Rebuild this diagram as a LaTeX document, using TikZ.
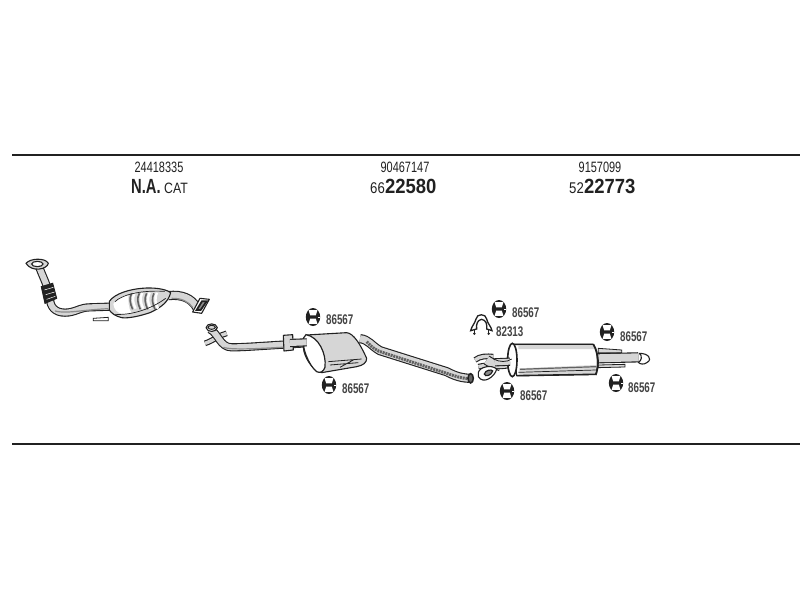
\documentclass[tikz,border=0pt]{standalone}
\usepackage{fontspec}
\setmainfont{Liberation Sans}
\definecolor{ink}{gray}{0.13}
\definecolor{shade}{gray}{0.55}
\definecolor{pale}{gray}{0.84}
\tikzset{
  rule/.style={draw=ink,line width=1.9pt},
  pipeA/.style={draw=ink,line width=1.1pt,double=pale,double distance=#1,line join=round},
  pipeA/.default=4.5pt,
  body/.style={draw=ink,line width=1.1pt,fill=pale,line join=round},
  thin/.style={draw=ink,line width=.8pt},
  hatch/.style={draw=shade,line width=1.2pt},
  partno/.style={inner sep=0pt,font=\fontsize{15}{15}\selectfont,xscale=.73,anchor=base,text=ink},
  bigno/.style={inner sep=0pt,font=\fontsize{20.5}{20}\selectfont\bfseries,xscale=.9,anchor=base west,text=ink},
  smallno/.style={inner sep=0pt,font=\fontsize{15.5}{15}\selectfont,xscale=.85,anchor=base east,text=ink},
  hangerno/.style={inner sep=0pt,font=\fontsize{14}{14}\selectfont\bfseries,xscale=.7,anchor=base west,text=ink!85},
  pics/hanger/.style={code={
    \fill[ink] (0,0) ellipse (7.2pt and 9pt);
    \fill[white] (-4.4,-6.8) -- (4.4,-6.8) -- (2.8,-1.6) -- (-2.8,-1.6) -- cycle;
    \fill[white] (-4.4,6.8) -- (4.4,6.8) -- (2.8,1.6) -- (-2.8,1.6) -- cycle;
    \fill[white] (5.4,-.5) rectangle (7.4,.5);
  }}
}
\begin{document}
\begin{tikzpicture}[x=1pt,y=-1pt]
\useasboundingbox (0,0) rectangle (800,600);
\fill[white] (0,0) rectangle (800,600);
\draw[rule] (12,155) -- (800,155);
\draw[rule] (12,444) -- (800,444);

% headings
\node[partno] (p1) at (159,172) {24418335};
\node[partno] (p2) at (405,172) {90467147};
\node[partno] (p3) at (600,172) {9157099};
\node[bigno,xscale=.8] (n1) at (131,193) {N.A.};
\node[inner sep=0pt,font=\fontsize{15}{15}\selectfont,xscale=.82,anchor=base west,text=ink] (n1b) at (164,193) {CAT};
\node[bigno] (n2) at (385,193) {22580};
\node[smallno] (n2b) at (385,193) {66};
\node[bigno] (n3) at (584,193) {22773};
\node[smallno] (n3b) at (584,193) {52};

% catalytic section (zoom 1 coordinates)
\begin{scope}[shift={(0,230)},x=.3333pt,y=-.3333pt]
  \draw[pipeA=6pt] (118,112) .. controls (128,140) and (145,170) .. (150,205) .. controls (150,230) and (165,248) .. (195,248) .. controls (225,248) and (240,232) .. (270,232) -- (330,230);
  \draw[hatch] (165,243) .. controls (200,252) and (240,240) .. (325,236);
  \draw[body] (78,100) .. controls (90,85) and (135,82) .. (145,100) .. controls (142,118) and (95,128) .. (78,100) -- cycle;
  \draw[ink,line width=1.1pt,fill=white] (112,102) ellipse (17 and 8);
  \draw[ink,line width=1pt,fill=ink] (124,170) -- (158,160) -- (170,205) -- (135,220) -- cycle;
  \draw[white,line width=.5pt] (133,180) -- (160,172) (137,194) -- (164,186) (140,208) -- (166,199);
  \draw[pipeA=7pt] (505,197) .. controls (545,192) and (575,205) .. (590,232);
  \draw[hatch] (515,205) .. controls (545,204) and (565,215) .. (578,232);
  \draw[body,fill=white] (600,205) -- (628,208) -- (605,250) -- (578,246) -- cycle;
  \draw[ink,line width=1.8pt,fill=shade] (606,214) -- (620,214) -- (602,240) -- (590,240) -- cycle;
  \draw[body] (328,214) .. controls (345,190) and (390,178) .. (425,175) .. controls (455,172) and (495,175) .. (512,188) .. controls (505,215) and (485,232) .. (450,248) .. controls (420,258) and (385,266) .. (365,263) .. controls (345,258) and (335,250) .. (328,240) -- cycle;
  \fill[white] (340,222) .. controls (355,200) and (375,195) .. (385,195) .. controls (385,215) and (385,235) .. (395,250) .. controls (375,255) and (345,255) .. (340,222) -- cycle;
  \foreach \x in {395,418,440,462}{
    \draw[white,line width=2.4pt] (\x+9,188) .. controls (\x+1,205) and (\x+4,220) .. (\x+12,236);
    \draw[shade!70!black,line width=1.6pt] (\x,190) .. controls (\x-8,205) and (\x-5,220) .. (\x+3,238);}
  \draw[ink,line width=.7pt] (345,215) .. controls (365,195) and (420,180) .. (495,184);
  \draw[ink,line width=.7pt] (345,253) .. controls (390,256) and (450,240) .. (497,205);
  \draw[thin,fill=white] (280,265) -- (325,262) -- (325,272) -- (280,272) -- cycle;
\end{scope}

% centre section (zoom 2 coordinates)
\begin{scope}[shift={(190,290)},x=.3333pt,y=-.3333pt]
  \draw[pipeA=3.5pt] (45,160) .. controls (70,152) and (88,135) .. (110,130);
  \draw[pipeA=6pt] (60,118) .. controls (85,130) and (90,172) .. (125,172) .. controls (170,172) and (230,166) .. (350,160);
  \draw[hatch] (100,172) .. controls (130,182) and (230,174) .. (345,168);
  \draw[body,fill=white] (48,113) .. controls (50,98) and (80,98) .. (82,113) .. controls (78,128) and (52,128) .. (48,113) -- cycle;
  \draw[ink,line width=1pt,fill=pale] (65,112) ellipse (11 and 6);
  \draw[body] (350,135) -- (470,128) .. controls (490,130) and (510,160) .. (530,205) .. controls (530,218) and (520,226) .. (500,230) -- (395,248) .. controls (375,245) and (350,215) .. (342,185) .. controls (338,160) and (338,145) .. (350,135) -- cycle;
  \draw[ink,line width=1.2pt,fill=white] (348,134) .. controls (385,140) and (410,190) .. (405,232) .. controls (400,246) and (390,250) .. (380,245) .. controls (355,225) and (335,170) .. (340,145) -- cycle;
  \draw[body,fill=pale] (280,136) -- (308,134) -- (310,180) -- (282,183) -- cycle;
  \draw[pipeA=6pt] (300,159) -- (350,157);
  \draw[thin] (415,215) -- (515,207) (420,225) -- (505,218) (450,232) -- (490,210);
  \draw[pipeA=7pt] (510,146) .. controls (535,148) and (545,168) .. (570,182) -- (770,245) .. controls (795,258) and (815,265) .. (845,265);
  \draw[draw=shade!70!black,dash pattern=on 2pt off .8pt,line width=3pt] (530,155) .. controls (545,172) and (560,183) .. (580,188) -- (770,250) .. controls (795,258) and (810,264) .. (835,266);
  \draw[draw=ink,line width=1.5pt,fill=ink!70] (842,265) ellipse (8 and 14);
\end{scope}

% rear section (zoom 3 coordinates)
\begin{scope}[shift={(450,285)},x=.3333pt,y=-.3333pt]
  \draw[ink,line width=1.3pt,fill=white] (62,137) .. controls (64,125) and (75,115) .. (78,102) .. controls (80,85) and (108,85) .. (110,102) .. controls (112,115) and (124,125) .. (126,137) -- (110,132) .. controls (112,118) and (108,105) .. (95,103) .. controls (82,105) and (78,118) .. (80,132) -- cycle;
  \fill[ink] (73,146) circle (4) (116,146) circle (4);
  \draw[thin] (73,146) -- (73,132) (116,146) -- (116,132);
  \draw[pipeA=3.5pt] (75,225) .. controls (90,213) and (110,213) .. (130,215);
  \draw[pipeA=3.5pt] (85,245) .. controls (105,240) and (125,240) .. (150,250);
  \draw[pipeA=8pt] (110,225) .. controls (130,240) and (150,240) .. (190,232);
  \draw[body,fill=white] (85,262) .. controls (90,245) and (125,238) .. (140,252) .. controls (135,275) and (100,300) .. (85,275) -- cycle;
  \draw[ink,line width=1.2pt,fill=shade] (103,267) .. controls (106,255) and (125,252) .. (128,258) .. controls (125,270) and (106,278) .. (103,267) -- cycle;
  \draw[thin,fill=pale] (445,190) -- (515,195) -- (515,203) -- (445,203) -- cycle;
  \draw[thin,fill=pale] (445,240) -- (525,238) -- (525,246) -- (445,248) -- cycle;
  \draw[pipeA=8pt] (440,220) -- (565,217);
  \draw[body,fill=white] (568,205) .. controls (595,205) and (608,222) .. (592,232) .. controls (582,240) and (570,238) .. (565,232) .. controls (575,228) and (578,212) .. (568,205) -- cycle;
  \draw[body,fill=white] (190,178) -- (430,178) .. controls (445,200) and (445,250) .. (437,268) -- (200,272) -- cycle;
  \fill[pale] (205,182) -- (430,182) -- (434,192) -- (205,192) -- cycle;
  \fill[pale] (208,250) -- (438,240) -- (436,266) -- (208,270) -- cycle;
  \draw[shade!70!black,line width=1.2pt] (210,253) -- (438,245);
  \draw[ink,line width=.7pt] (205,262) -- (438,255);
  \draw[ink,line width=1.8pt] (430,178) .. controls (447,205) and (447,245) .. (437,270);
  \draw[ink,line width=1.6pt] (190,178) -- (430,178) (200,272) -- (437,268);
  \draw[ink,line width=1.6pt,fill=white] (187,225) ellipse (14 and 50);
  \draw[pipeA=6pt] (135,232) -- (180,230);
  \draw[thin] (130,222) .. controls (150,232) and (170,232) .. (185,222);
\end{scope}

% hangers and part numbers
\pic at (313,317) {hanger};
\node[hangerno] (h1) at (326,324) {86567};
\pic at (329,385) {hanger};
\node[hangerno] (h2) at (342,393) {86567};
\pic at (499,309) {hanger};
\node[hangerno] (h3) at (512,317) {86567};
\node[hangerno] (h4) at (496,336) {82313};
\pic at (607,332) {hanger};
\node[hangerno] (h5) at (620,341) {86567};
\pic at (507,391) {hanger};
\node[hangerno] (h6) at (520,400) {86567};
\pic at (616,383) {hanger};
\node[hangerno] (h7) at (628,392) {86567};
\end{tikzpicture}
\end{document}
